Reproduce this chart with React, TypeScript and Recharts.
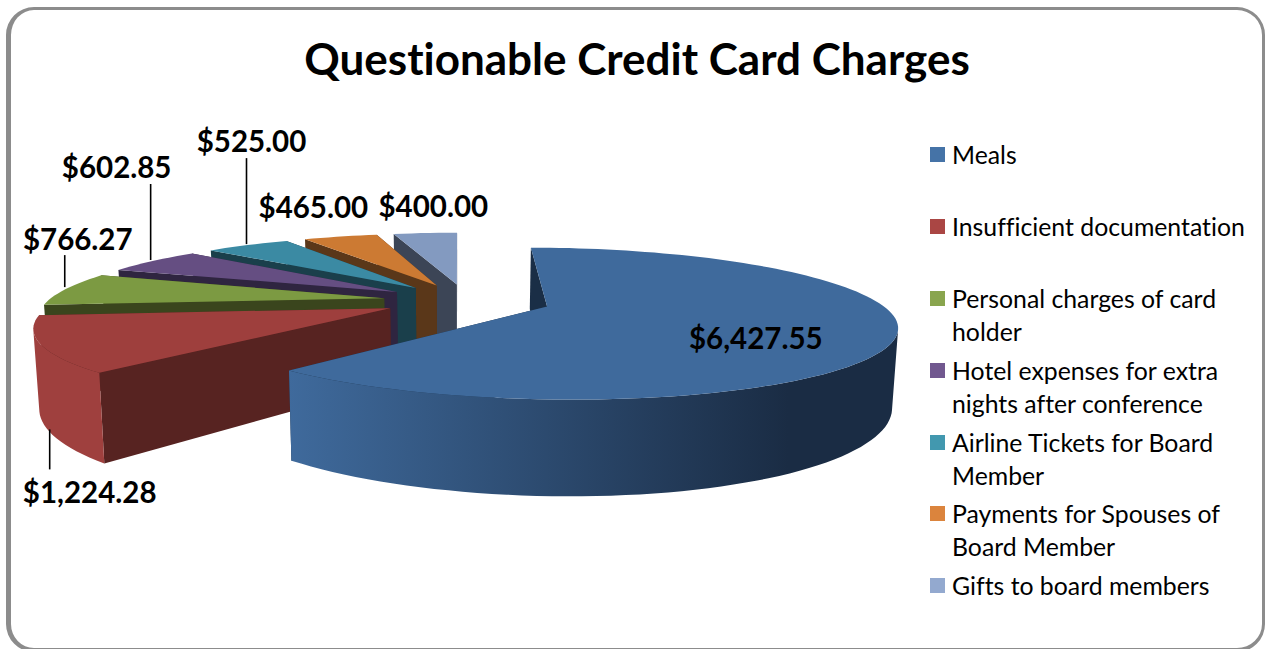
import React from "react";
import { PieChart, Pie, Legend } from "recharts";

const categories = [
  "Meals",
  "Insufficient documentation",
  "Personal charges of card holder",
  "Hotel expenses for extra nights after conference",
  "Airline Tickets for Board Member",
  "Payments for Spouses of Board Member",
  "Gifts to board members",
];
const amounts = [6427.55, 1224.28, 766.27, 602.85, 525.0, 465.0, 400.0];
const legendColors = ["#4573a7", "#aa4644", "#89a54e", "#71588f", "#4298af", "#db843d", "#93a9cf"];
const topColors = ["#3f6a9c", "#9e3f3d", "#7c9a42", "#654e82", "#3b8aa3", "#cc7a33", "#839ac0"];
const radialWallColors = ["#1a2e46", "#572321", "#3a451d", "#2f2540", "#1a3f4b", "#5a3719", "#3c4556"];
const outerWallStops = [
  ["#3f6a9c", "#1a2c44"],
  ["#9f403e", "#9f403e"],
  ["#3a451d", "#3a451d"],
  ["#2f2540", "#2f2540"],
  ["#1a3f4b", "#1a3f4b"],
  ["#5a3719", "#5a3719"],
  ["#3c4556", "#3c4556"],
];
// label placement relative to the slice's outer arc midpoint: [dx, dy, leaderDx, leaderFrom, leaderTo]
const labelOffsets: (number[])[] = [
  [-141, 3, 0, 0, 0],
  [49, 147, 9, 85, 125],
  [12, -51, -1, -34, -2],
  [-36, -94, -2, -77, -1],
  [4, -105, -1, -87, -1],
  [-27, -30, 0, 0, 0],
  [8, -28, 0, 0, 0],
];

// Drawn back to front: the table is reversed and swept the other way round.
const tableData = categories
  .map((name, i) => ({ name, value: amounts[i], idx: i }))
  .reverse();

const W = 1265;
const H = 649;
const FONT = "Lato, 'Open Sans', sans-serif";

// Perspective camera for a unit-radius disc
const VX = 458;
const VY = -16;
const AX = 1578;
const BY = 1443;
const DEPTH = 4.56;
const HEIGHT = 336;
const LEAN = 0.014;
const X0 = 0.026;
const EXPLODE = 0.243;
const RIM_X_RIGHT = 0.955;
const RIM_X_LEFT = 0.97;

const rad = (a: number) => (a * Math.PI) / 180;

function project(X: number, Yf: number, z: number) {
  const d = DEPTH - Yf;
  const s = 1 - LEAN * z;
  return { x: VX + ((AX * X) / d) * s, y: VY + (BY + HEIGHT * z) / d };
}

function apexOf(mid: number) {
  return { X: X0 + EXPLODE * Math.cos(rad(mid)), Yf: -EXPLODE * Math.sin(rad(mid)) };
}

function rimPoint(apex: { X: number; Yf: number }, a: number, z: number) {
  const c = Math.cos(rad(a));
  return project(apex.X + (c < 0 ? RIM_X_LEFT : RIM_X_RIGHT) * c, apex.Yf - Math.sin(rad(a)), z);
}

const toPath = (pts: { x: number; y: number }[]) =>
  pts.map((p, i) => `${i ? "L" : "M"}${p.x.toFixed(1)} ${p.y.toFixed(1)}`).join("") + "Z";

function arcAngles(a0: number, a1: number) {
  const out: number[] = [];
  const n = Math.max(2, Math.ceil(Math.abs(a1 - a0) / 2));
  for (let i = 0; i <= n; i++) out.push(a0 + ((a1 - a0) * i) / n);
  return out;
}

function SliceShape(props: any) {
  const { startAngle, endAngle, payload } = props;
  const idx = payload?.idx ?? props.idx ?? 0;
  const mid = (startAngle + endAngle) / 2;
  const apex = apexOf(mid);
  const a0 = startAngle;
  const a1 = endAngle;
  const top = project(apex.X, apex.Yf, 0);
  const bottom = project(apex.X, apex.Yf, 1);
  const rimTop = arcAngles(a0, a1).map((a) => rimPoint(apex, a, 0));

  const wall = (a: number) => {
    const t = rimPoint(apex, a, 0);
    const b = rimPoint(apex, a, 1);
    return toPath([top, t, b, bottom]);
  };

  // The outer wall shows only where the rim runs left to right on screen, i.e. faces the viewer.
  const faces = (a: number) => rimPoint(apex, a + 1, 0).x > rimPoint(apex, a - 1, 0).x;
  const visible = arcAngles(a0, a1).filter(faces);
  const outer =
    visible.length > 1
      ? toPath([
          ...visible.map((a) => rimPoint(apex, a, 0)),
          ...visible.slice().reverse().map((a) => rimPoint(apex, a, 1)),
        ])
      : null;
  const gid = `wall-${idx}`;
  return (
    <g>
      <defs>
        <linearGradient id={gid} x1="0" x2="1" y1="0" y2="0">
          <stop offset="0" stopColor={outerWallStops[idx][0]} />
          <stop offset="0.82" stopColor={outerWallStops[idx][1]} />
          <stop offset="1" stopColor={outerWallStops[idx][1]} />
        </linearGradient>
      </defs>
      <path d={wall(a0)} fill={radialWallColors[idx]} />
      <path d={wall(a1)} fill={radialWallColors[idx]} />
      {outer && <path d={outer} fill={`url(#${gid})`} />}
      <path d={toPath([top, ...rimTop])} fill={topColors[idx]} />
    </g>
  );
}

const money = (v: number) =>
  "$" + v.toLocaleString("en-US", { minimumFractionDigits: 2, maximumFractionDigits: 2 });

function SliceLabel(props: any) {
  const { payload, startAngle, endAngle, midAngle } = props;
  const idx = payload?.idx ?? 0;
  const mid = midAngle ?? (startAngle + endAngle) / 2;
  const at = rimPoint(apexOf(mid), mid, 0);
  const [dx, dy, ldx, l0, l1] = labelOffsets[idx];
  return (
    <g>
      {l0 !== l1 && (
        <line x1={at.x + ldx} x2={at.x + ldx} y1={at.y + l0} y2={at.y + l1} stroke="#000" strokeWidth={1.6} />
      )}
      <text
        x={at.x + dx}
        y={at.y + dy}
        textAnchor="middle"
        dominantBaseline="central"
        fontFamily={FONT}
        fontWeight={700}
        fontSize={29.5}
        fill="#000"
        style={{ fontVariantLigatures: "none" }}
      >
        {money(amounts[idx])}
      </text>
    </g>
  );
}

function LegendBox() {
  return (
    <div style={{ fontFamily: FONT, fontSize: 24.8, lineHeight: "33px", color: "#000", fontVariantLigatures: "none" }}>
      {categories.map((c, i) => (
        <div key={c} style={{ position: "relative", height: 71.9, paddingLeft: 22, boxSizing: "border-box" }}>
          <span
            style={{
              position: "absolute",
              left: 0,
              top: 9,
              width: 15,
              height: 15,
              background: legendColors[i],
            }}
          />
          {c}
        </div>
      ))}
    </div>
  );
}

export default function App() {
  return (
    <div style={{ position: "absolute", left: 0, top: 0, width: W, height: H, overflow: "hidden", background: "#fff" }}>
      <div
        style={{
          position: "absolute",
          left: 6,
          top: 7,
          right: 0,
          bottom: -3,
          borderStyle: "solid",
          borderColor: "#8c8c8c",
          borderWidth: "3px 3px 4px 5px",
          borderRadius: 28,
          boxSizing: "border-box",
        }}
      />
      <div
        style={{
          position: "absolute",
          left: 0,
          top: 30,
          width: 1274,
          textAlign: "center",
          fontFamily: FONT,
          fontWeight: 700,
          fontSize: 44,
          lineHeight: "56px",
          color: "#000",
          fontVariantLigatures: "none",
        }}
      >
        Questionable Credit Card Charges
      </div>
      <div style={{ position: "absolute", left: 0, top: 0 }}>
        <PieChart width={W} height={H} margin={{ top: 0, right: 0, bottom: 0, left: 0 }}>
          <Pie
            data={tableData}
            dataKey="value"
            nameKey="name"
            cx={467}
            cy={300}
            outerRadius={346}
            startAngle={90}
            endAngle={450}
            stroke="none"
            isAnimationActive={false}
            shape={SliceShape}
            label={SliceLabel}
            labelLine={false}
            legendType="square"
          />
          <Legend
            content={LegendBox}
            layout="vertical"
            align="right"
            verticalAlign="top"
            wrapperStyle={{ position: "absolute", left: 930, top: 138, width: 330 }}
          />
        </PieChart>
      </div>
    </div>
  );
}
